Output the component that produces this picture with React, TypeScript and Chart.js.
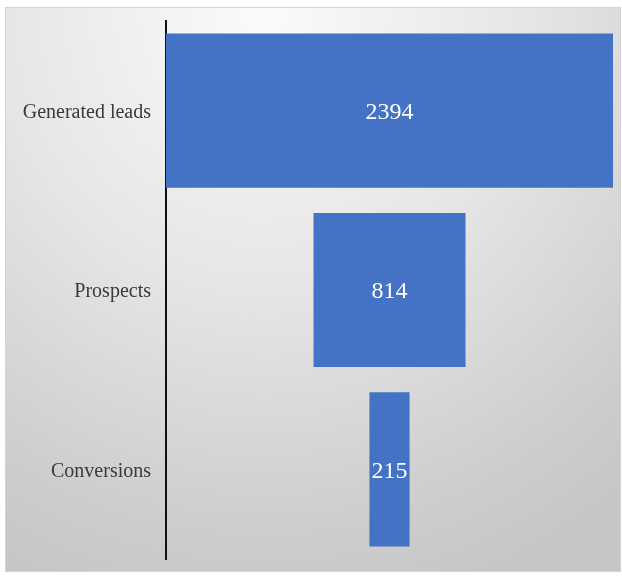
import React, { useEffect, useRef } from "react";
import { Chart, registerables } from "chart.js";

Chart.register(...registerables);

const categories = ["Generated leads", "Prospects", "Conversions"];
const values = [2394, 814, 215];
const barColor = "#4472c4";

const valueLabels = {
  id: "valueLabels",
  afterDatasetsDraw(chart: any) {
    const ctx = chart.ctx;
    const meta = chart.getDatasetMeta(0);
    ctx.save();
    ctx.fillStyle = "#ffffff";
    ctx.font = "24px 'Liberation Serif', 'Times New Roman', serif";
    ctx.textAlign = "center";
    ctx.textBaseline = "middle";
    meta.data.forEach((bar: any, i: number) => {
      const cx = (bar.x + bar.base) / 2;
      ctx.fillText(String(values[i]), cx, bar.y + 2);
    });
    ctx.restore();
  },
};

export default function App() {
  const ref = useRef<HTMLCanvasElement>(null);
  useEffect(() => {
    if (!ref.current) return;
    const maxV = Math.max(...values);
    const chart = new Chart(ref.current, {
      type: "bar",
      data: {
        labels: categories,
        datasets: [
          {
            data: values.map((v) => [-v / 2, v / 2]) as any,
            backgroundColor: barColor,
            borderWidth: 0,
            barPercentage: 0.86,
            categoryPercentage: 1,
          },
        ],
      },
      options: {
        indexAxis: "y",
        animation: false,
        responsive: false,
        layout: { padding: { left: 0, right: 7, top: 13, bottom: 12 } },
        plugins: { legend: { display: false }, tooltip: { enabled: false } },
        scales: {
          x: { display: false, min: -maxV / 2, max: maxV / 2 },
          y: {
            grid: { display: false, drawTicks: false },
            border: { display: true, color: "#111111", width: 2 },
            ticks: {
              color: "#3a3a3a",
              padding: 15,
              labelOffset: 2,
              font: { family: "'Liberation Serif', 'Times New Roman', serif", size: 20 },
            },
            afterFit(scale: any) {
              scale.width = 160;
              scale.paddingTop = 0;
              scale.paddingBottom = 0;
            },
          },
        },
      },
      plugins: [valueLabels],
    });
    return () => chart.destroy();
  }, []);

  return (
    <div
      style={{
        position: "absolute",
        left: 5,
        top: 7,
        width: 614,
        height: 563,
        border: "1px solid #d4d4d4",
        background:
          "radial-gradient(ellipse 95% 110% at 42% 0%, #fbfbfb 0%, #e6e6e6 45%, #cdcdcd 85%, #c6c6c6 100%)",
      }}
    >
      <canvas ref={ref} width={614} height={563} style={{ display: "block" }} />
    </div>
  );
}
